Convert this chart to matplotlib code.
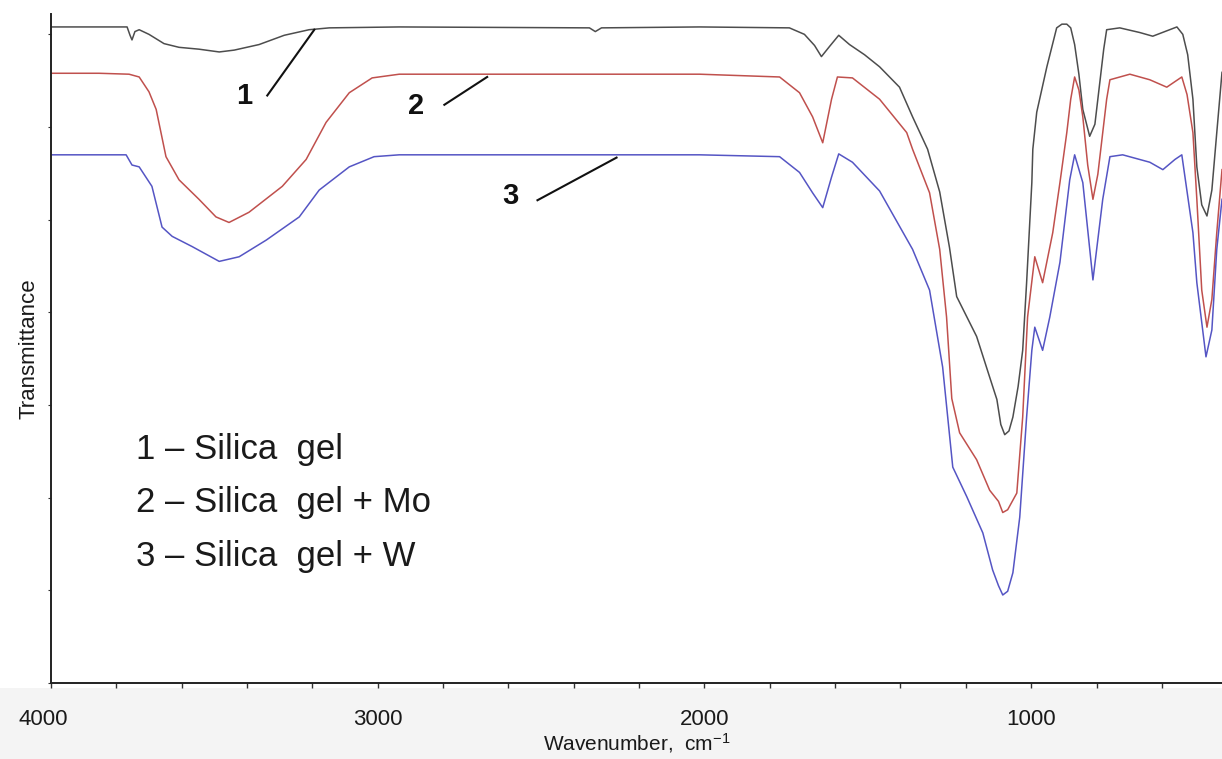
import matplotlib
matplotlib.use('Agg')
import matplotlib.pyplot as plt
import matplotlib.transforms as mtransforms
from matplotlib.patches import Rectangle

plt.rcParams['font.family'] = ['Liberation Sans', 'DejaVu Sans']

# FTIR spectra (wavenumber cm-1, transmittance a.u.)
wn_1 = [4000, 3853, 3767, 3758, 3752, 3743, 3730, 3700, 3654, 3608, 3547, 3485, 3439, 3363,
        3286, 3210, 3148, 2934, 2352, 2334, 2315, 2015, 1740, 1694, 1663, 1642, 1617, 1589,
        1556, 1510, 1464, 1403, 1363, 1317, 1280, 1250, 1228, 1167, 1127, 1105, 1093, 1081,
        1068, 1056, 1040, 1026, 1014, 998, 995, 983, 952, 922, 906, 891, 879, 867, 854, 842,
        821, 805, 790, 778, 769, 729, 668, 628, 591, 554, 536, 521, 505, 493, 478, 462, 447,
        432, 416]
tr_1 = [70.8, 70.8, 70.8, 69.9, 69.4, 70.3, 70.5, 70.0, 69.0, 68.6, 68.4, 68.1, 68.3, 68.9,
        69.9, 70.5, 70.7, 70.8, 70.7, 70.3, 70.7, 70.8, 70.7, 70.0, 68.8, 67.6, 68.7, 69.9,
        68.9, 67.8, 66.5, 64.3, 61.1, 57.6, 53.0, 47.0, 41.7, 37.4, 33.0, 30.6, 27.9, 26.8,
        27.2, 28.7, 32.0, 35.9, 43.2, 54.0, 57.6, 61.6, 66.5, 70.7, 71.1, 71.1, 70.7, 68.9,
        65.7, 61.9, 59.0, 60.3, 64.8, 68.4, 70.5, 70.7, 70.2, 69.8, 70.3, 70.8, 70.0, 67.8,
        63.0, 55.7, 51.6, 50.4, 53.2, 59.4, 65.9]

wn_2 = [4000, 3853, 3761, 3730, 3700, 3678, 3648, 3608, 3547, 3495, 3455, 3394, 3292, 3219,
        3158, 3087, 3017, 2934, 2015, 1770, 1709, 1669, 1638, 1611, 1593, 1547, 1464, 1381,
        1363, 1311, 1280, 1259, 1243, 1219, 1167, 1127, 1100, 1087, 1072, 1044, 1026, 1011,
        989, 965, 934, 912, 891, 879, 867, 854, 842, 827, 811, 796, 781, 769, 759, 698, 637,
        585, 560, 539, 523, 505, 493, 478, 462, 447, 432, 416]
tr_2 = [65.8, 65.8, 65.7, 65.4, 63.8, 61.9, 56.8, 54.3, 52.2, 50.3, 49.7, 50.8, 53.6, 56.5,
        60.5, 63.7, 65.3, 65.7, 65.7, 65.4, 63.7, 61.1, 58.3, 63.0, 65.4, 65.3, 63.0, 59.4,
        57.6, 52.9, 46.8, 39.5, 30.7, 27.0, 24.1, 20.8, 19.6, 18.4, 18.7, 20.5, 28.7, 39.5,
        46.0, 43.2, 48.6, 54.0, 59.4, 63.0, 65.4, 64.0, 61.1, 55.9, 52.2, 54.9, 59.4, 63.0,
        65.1, 65.7, 65.1, 64.3, 64.9, 65.4, 63.5, 59.4, 52.2, 42.4, 38.4, 41.4, 48.6, 55.4]

wn_3 = [4000, 3853, 3770, 3752, 3730, 3691, 3660, 3629, 3568, 3485, 3424, 3341, 3240, 3179,
        3087, 3011, 2934, 2015, 1770, 1709, 1669, 1638, 1611, 1589, 1547, 1464, 1363, 1311,
        1271, 1240, 1197, 1148, 1118, 1100, 1087, 1072, 1056, 1035, 1014, 998, 989, 965,
        943, 912, 882, 867, 842, 811, 781, 759, 720, 637, 597, 560, 539, 505, 493, 465, 447,
        432, 416]
tr_3 = [57.0, 57.0, 57.0, 55.9, 55.7, 53.6, 49.2, 48.2, 47.1, 45.5, 46.0, 47.8, 50.3, 53.2,
        55.7, 56.8, 57.0, 57.0, 56.8, 55.1, 52.9, 51.3, 54.6, 57.1, 56.2, 53.1, 46.8, 42.4,
        34.1, 23.3, 20.1, 16.2, 12.2, 10.5, 9.5, 9.9, 11.9, 17.9, 28.7, 35.9, 38.4, 35.9,
        39.5, 45.4, 54.3, 57.0, 54.0, 43.5, 52.2, 56.8, 57.0, 56.2, 55.4, 56.5, 57.0, 48.6,
        43.2, 35.2, 38.1, 46.8, 52.2]

colors = ['#4d4d4d', '#c0504d', '#5555c4']
legend_lines = ['1 \u2013 Silica  gel', '2 \u2013 Silica  gel + Mo', '3 \u2013 Silica  gel + W']

# curve number labels and their leader lines
num_labels = ['1', '2', '3']
num_pos = [(3409, 63.3), (2882, 62.3), (2594, 52.6)]
leader_start = [(3338, 63.4), (2796, 62.4), (2511, 52.1)]
leader_end = [(3194, 70.5), (2665, 65.4), (2269, 56.7)]

fig = plt.figure(figsize=(12.22, 7.59), dpi=100)
fig.patches.append(Rectangle((0, 0), 1, 0.094, transform=fig.transFigure,
                             facecolor='#f4f4f4', edgecolor='none', zorder=0))
ax = fig.add_axes([0.0417, 0.1001, 0.9583, 0.8815])
ax.set_zorder(1)

for wn, tr, c in zip([wn_1, wn_2, wn_3], [tr_1, tr_2, tr_3], colors):
    ax.plot(wn, tr, color=c, lw=1.1)

for lab, p, s, e in zip(num_labels, num_pos, leader_start, leader_end):
    ax.text(p[0], p[1], lab, fontsize=21, fontweight='bold', ha='center', va='center',
            color='#111111')
    ax.plot([s[0], e[0]], [s[1], e[1]], color='#111111', lw=1.5)

for i, t in enumerate(legend_lines):
    ax.text(3740, 25.2 - i * 5.75, t, fontsize=25, ha='left', va='center', color='#1a1a1a')

ax.set_xlim(4000, 416)
ax.set_ylim(0, 72.2)
ax.set_xticks([4000, 3000, 2000, 1000])
ax.set_xticks(range(600, 4000, 200), minor=True)
ax.set_yticks(range(0, 80, 10))
ax.set_yticklabels([])
ax.tick_params(axis='x', which='both', direction='out', length=3.5, width=1,
               color='#333333', labelsize=16, labelcolor='#1a1a1a', pad=15)
ax.tick_params(axis='y', direction='out', length=2, width=0.8, color='#333333')

for side in ['top', 'right']:
    ax.spines[side].set_visible(False)
for side in ['left', 'bottom']:
    ax.spines[side].set_linewidth(1.4)
    ax.spines[side].set_color('#222222')

# the leftmost tick label sits slightly left of its tick
lbl = ax.get_xticklabels()[0]
lbl.set_transform(lbl.get_transform() +
                  mtransforms.ScaledTranslation(-8 / 100, 0, fig.dpi_scale_trans))

ax.set_xlabel('Wavenumber,  cm$\\mathregular{^{-1}}$', fontsize=15, color='#1a1a1a',
              labelpad=1)
ax.set_ylabel('Transmittance', fontsize=16, color='#1a1a1a', labelpad=3)

fig.savefig('out.png', dpi=100)
